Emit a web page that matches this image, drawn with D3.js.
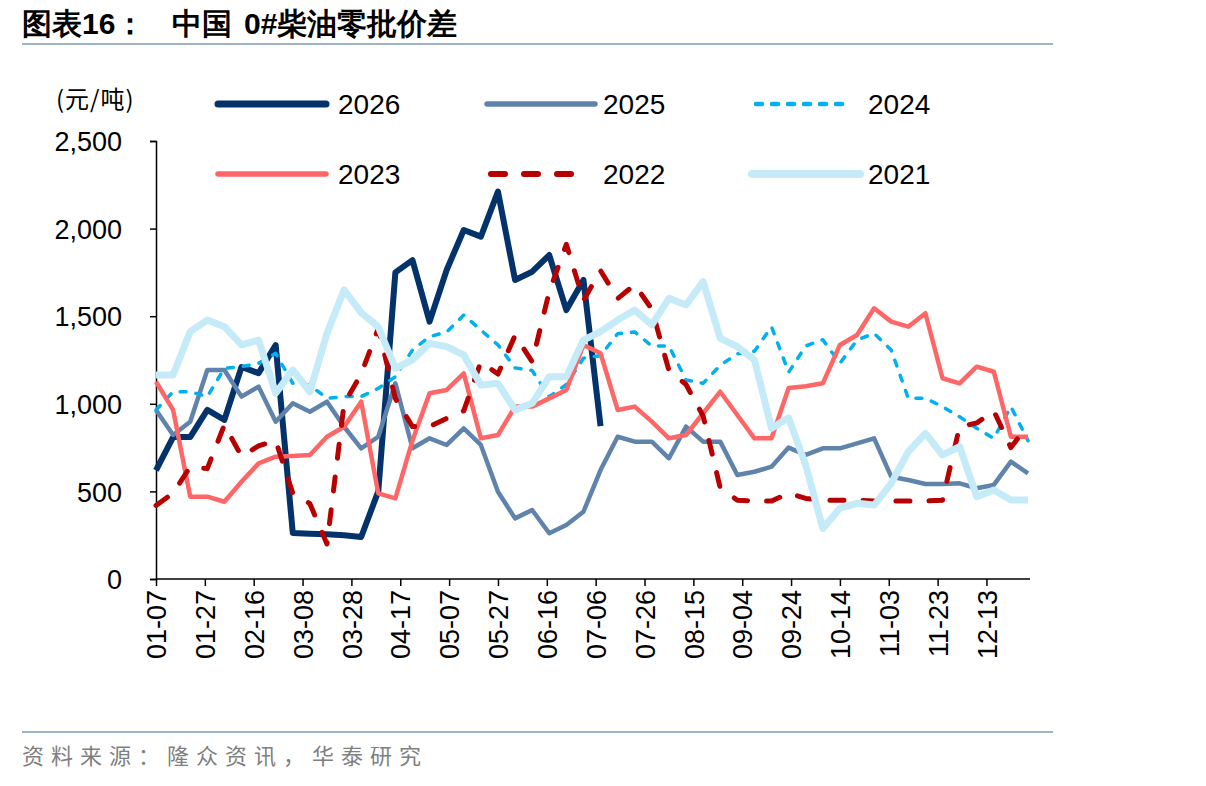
<!DOCTYPE html>
<html>
<head>
<meta charset="utf-8">
<script src="https://cdn.jsdelivr.net/npm/d3@7/dist/d3.min.js"></script>
<style>
  body { margin: 0; background: #fff; }
  svg { display: block; }
  text { font-family: "Liberation Sans", Arial, sans-serif; fill: #000; }
  .cjk { font-family: "Noto Sans CJK SC", sans-serif; }
</style>
</head>
<body>
<div id="chart"></div>
<script>
// weekly dates (MM-DD)
const weeks = [
  "01-07","01-14","01-21","01-28","02-04","02-11","02-18","02-25","03-04","03-11",
  "03-18","03-25","04-01","04-08","04-15","04-22","04-29","05-06","05-13","05-20",
  "05-27","06-03","06-10","06-17","06-24","07-01","07-08","07-15","07-22","07-29",
  "08-05","08-12","08-19","08-26","09-02","09-09","09-16","09-23","09-30","10-07",
  "10-14","10-21","10-28","11-04","11-11","11-18","11-25","12-02","12-09","12-16",
  "12-23","12-30"
];
const tickLabels = ["01-07","01-27","02-16","03-08","03-28","04-17","05-07","05-27","06-16",
  "07-06","07-26","08-15","09-04","09-24","10-14","11-03","11-23","12-13"];
const yTicks = [0, 500, 1000, 1500, 2000, 2500];

const v2026 = [620,810,810,965,908,1210,1175,1335,262,258,255,250,240,500,1750,1820,1469,1764,1992,1954,
  2211,1707,1754,1849,1535,1707,873];
const v2025 = [965,822,898,1193,1193,1041,1098,898,1003,955,1012,869,745,812,1117,746,803,765,860,765,
  498,346,394,261,308,384,622,812,784,784,689,870,784,784,594,612,641,750,708,746,
  746,774,803,584,565,542,542,546,518,537,670,603];
const v2024 = [965,1069,1069,1041,1203,1212,1231,1288,1117,1107,1031,1041,1041,1088,1155,1307,1383,1410,1507,1421,
  1336,1205,1190,1040,1110,1260,1275,1400,1410,1330,1330,1136,1117,1220,1285,1300,1440,1180,1330,1366,
  1231,1364,1402,1307,1031,1031,984,926,860,803,984,790];
const v2023 = [1126,965,470,470,441,555,660,698,702,708,812,869,1012,489,460,790,1060,1079,1174,803,
  822,984,984,1031,1079,1336,1288,965,984,898,803,822,946,1069,936,803,803,1090,1100,1117,
  1336,1393,1545,1469,1440,1517,1146,1117,1212,1183,812,812];
const v2022 = [420,490,640,630,880,700,760,790,490,430,200,1000,1170,1430,1030,870,870,917,960,1240,
  1170,1390,1240,1640,1910,1590,1760,1600,1680,1540,1190,1110,930,520,450,445,445,490,460,450,
  450,450,445,445,445,445,450,870,890,960,750,880];
const v2021 = [1164,1164,1412,1478,1440,1336,1364,1060,1193,1069,1402,1650,1520,1440,1203,1250,1345,1326,1279,1107,
  1117,965,1003,1155,1155,1364,1412,1478,1535,1450,1602,1564,1697,1374,1326,1250,860,920,650,289,
  404,432,422,546,727,831,708,755,470,508,451,451];

const series = [
  { name: "2026", values: v2026, color: "#04326B", width: 6, dash: null },
  { name: "2025", values: v2025, color: "#6083AC", width: 4.5, dash: null },
  { name: "2024", values: v2024, color: "#00B0F0", width: 3.5, dash: "6,10" },
  { name: "2023", values: v2023, color: "#FF6666", width: 4.5, dash: null },
  { name: "2022", values: v2022, color: "#B80000", width: 5, dash: "14,19" },
  { name: "2021", values: v2021, color: "#C5EAF8", width: 7, dash: null }
];

const W = 1206, H = 786;
const parse = d3.timeParse("%Y-%m-%d");
const toDate = s => parse("2025-" + s);

const svg = d3.select("#chart").append("svg").attr("width", W).attr("height", H);

// title
const title = svg.append("g").attr("class", "cjk").style("font-weight", "bold").style("font-size", "30px");
title.append("text").attr("x", 22).attr("y", 34).text("图表16：");
title.append("text").attr("x", 172).attr("y", 34).text("中国");
title.append("text").attr("x", 244).attr("y", 34).text("0#柴油零批价差");
svg.append("line").attr("x1", 22).attr("x2", 1053).attr("y1", 44).attr("y2", 44)
  .attr("stroke", "#9DB3CC").attr("stroke-width", 2);

// scales
const x = d3.scaleTime()
  .domain([toDate(weeks[0]), toDate(weeks[weeks.length - 1])])
  .range([156, 1028]);
const y = d3.scaleLinear().domain([0, 2500]).range([579, 141]);

// y axis
const yAxis = svg.append("g").attr("transform", "translate(156,0)")
  .call(d3.axisLeft(y).tickValues(yTicks).tickSize(6).tickPadding(28).tickFormat(d3.format(",")));
yAxis.select(".domain").attr("stroke", "#000").attr("stroke-width", 1.5);
yAxis.selectAll(".tick line").attr("stroke", "#000").attr("stroke-width", 1.5);
yAxis.selectAll(".tick text").style("font-size", "27px").attr("dy", "0.36em");

// x axis
const xAxis = svg.append("g").attr("transform", "translate(0,579)")
  .call(d3.axisBottom(x).tickValues(tickLabels.map(toDate)).tickSize(7).tickSizeOuter(0)
    .tickFormat(d3.timeFormat("%m-%d")));
xAxis.select(".domain").attr("stroke", "#000").attr("stroke-width", 1.5)
  .attr("d", "M156,0H1030");
xAxis.selectAll(".tick line").attr("stroke", "#000").attr("stroke-width", 1.5);
xAxis.selectAll(".tick text")
  .style("font-size", "27px")
  .attr("text-anchor", "end")
  .attr("transform", "rotate(-90)")
  .attr("x", -11).attr("y", 0).attr("dy", "0.36em");

// unit label
svg.append("text").attr("class", "cjk").attr("x", 56).attr("y", 108)
  .style("font-size", "24px").style("letter-spacing", "1px").text("(元/吨)");

// lines
const line = d3.line()
  .x((d, i) => x(toDate(weeks[i])))
  .y(d => y(d));

svg.append("g").selectAll("path")
  .data(series)
  .enter()
  .append("path")
  .attr("d", s => line(s.values))
  .attr("fill", "none")
  .attr("stroke", s => s.color)
  .attr("stroke-width", s => s.width)
  .attr("stroke-dasharray", s => s.dash)
  .attr("stroke-linecap", s => s.dash ? "round" : "butt")
  .attr("stroke-linejoin", "round");

// legend
const legendPos = [[218, 104], [487, 104], [752, 104], [218, 174], [487, 174], [752, 174]];
const leg = svg.append("g").selectAll("g")
  .data(series)
  .enter()
  .append("g")
  .attr("transform", (d, i) => "translate(" + legendPos[i][0] + "," + legendPos[i][1] + ")");
leg.append("line")
  .attr("x1", d => d.dash ? 4 : 0).attr("x2", d => d.dash ? 100 : 108)
  .attr("y1", 0).attr("y2", 0)
  .attr("stroke", d => d.color)
  .attr("stroke-width", d => d.width + 1)
  .attr("stroke-dasharray", d => d.dash)
  .attr("stroke-linecap", "round");
leg.append("text")
  .attr("x", (d, i) => i % 3 === 0 ? 120 : 116)
  .attr("y", 0).attr("dy", "0.36em")
  .style("font-size", "28px")
  .text(d => d.name);

// source
svg.append("line").attr("x1", 22).attr("x2", 1053).attr("y1", 732).attr("y2", 732)
  .attr("stroke", "#9DB3CC").attr("stroke-width", 2);
svg.append("text").attr("class", "cjk").attr("x", 22).attr("y", 764)
  .style("font-size", "22px").style("letter-spacing", "7px").style("fill", "#7f7f7f")
  .text("资料来源：隆众资讯，华泰研究");
</script>
</body>
</html>
